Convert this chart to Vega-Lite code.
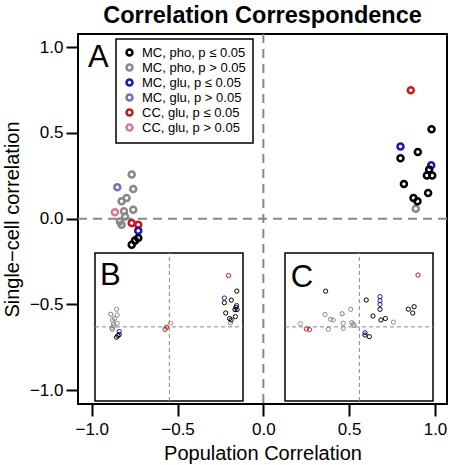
{
  "$schema": "https://vega.github.io/schema/vega-lite/v6.json",
  "width": 369,
  "height": 370,
  "autosize": "none",
  "padding": {"left": 78, "top": 34, "right": 3, "bottom": 61},
  "background": "white",
  "title": {"text": "Correlation Correspondence", "font": "Liberation Sans", "fontSize": 23.5, "fontWeight": "bold", "color": "black", "anchor": "middle", "offset": 6},
  "config": {
    "view": {"stroke": "black", "strokeWidth": 2},
    "font": "Liberation Sans",
    "axis": {"domain": false, "grid": false, "tickColor": "black", "tickWidth": 2, "tickSize": 12, "labelFont": "Liberation Sans", "labelFontSize": 17, "labelColor": "black", "labelPadding": 3, "titleFont": "Liberation Sans", "titleFontSize": 20, "titleFontWeight": "normal", "titleColor": "black"},
    "axisX": {"labelPadding": 5, "titlePadding": 6},
    "axisY": {"titlePadding": 7},
    "legend": {"orient": "none", "legendX": 38, "legendY": 5, "strokeColor": "black", "strokeWidth": 1.5, "fillColor": "white", "padding": 7, "labelFont": "Liberation Sans", "labelFontSize": 13, "labelColor": "black", "labelOffset": 6, "symbolType": "circle", "symbolSize": 36, "symbolStrokeWidth": 2.5, "symbolFillColor": "transparent", "rowPadding": -3}
  },
  "datasets": {
    "A": [
      {"x": -0.767, "y": 0.257, "g": "MC, pho, p > 0.05"},
      {"x": -0.758, "y": 0.173, "g": "MC, pho, p > 0.05"},
      {"x": -0.797, "y": 0.121, "g": "MC, pho, p > 0.05"},
      {"x": -0.826, "y": 0.101, "g": "MC, pho, p > 0.05"},
      {"x": -0.758, "y": 0.052, "g": "MC, pho, p > 0.05"},
      {"x": -0.812, "y": 0.043, "g": "MC, pho, p > 0.05"},
      {"x": -0.806, "y": 0.013, "g": "MC, pho, p > 0.05"},
      {"x": -0.836, "y": -0.016, "g": "MC, pho, p > 0.05"},
      {"x": -0.826, "y": -0.035, "g": "MC, pho, p > 0.05"},
      {"x": 0.888, "y": 0.058, "g": "MC, pho, p > 0.05"},
      {"x": -0.851, "y": 0.183, "g": "MC, glu, p > 0.05"},
      {"x": -0.865, "y": 0.037, "g": "CC, glu, p > 0.05"},
      {"x": -0.767, "y": -0.025, "g": "CC, glu, p ≤ 0.05"},
      {"x": -0.729, "y": -0.035, "g": "CC, glu, p ≤ 0.05"},
      {"x": 0.859, "y": 0.748, "g": "CC, glu, p ≤ 0.05"},
      {"x": -0.729, "y": -0.07, "g": "MC, glu, p ≤ 0.05"},
      {"x": 0.799, "y": 0.42, "g": "MC, glu, p ≤ 0.05"},
      {"x": 0.978, "y": 0.311, "g": "MC, glu, p ≤ 0.05"},
      {"x": -0.729, "y": -0.113, "g": "MC, pho, p ≤ 0.05"},
      {"x": -0.748, "y": -0.128, "g": "MC, pho, p ≤ 0.05"},
      {"x": -0.767, "y": -0.152, "g": "MC, pho, p ≤ 0.05"},
      {"x": 0.98, "y": 0.521, "g": "MC, pho, p ≤ 0.05"},
      {"x": 0.9, "y": 0.389, "g": "MC, pho, p ≤ 0.05"},
      {"x": 0.799, "y": 0.352, "g": "MC, pho, p ≤ 0.05"},
      {"x": 0.966, "y": 0.286, "g": "MC, pho, p ≤ 0.05"},
      {"x": 0.953, "y": 0.251, "g": "MC, pho, p ≤ 0.05"},
      {"x": 0.984, "y": 0.251, "g": "MC, pho, p ≤ 0.05"},
      {"x": 0.819, "y": 0.202, "g": "MC, pho, p ≤ 0.05"},
      {"x": 0.96, "y": 0.15, "g": "MC, pho, p ≤ 0.05"},
      {"x": 0.875, "y": 0.121, "g": "MC, pho, p ≤ 0.05"},
      {"x": 0.898, "y": 0.101, "g": "MC, pho, p ≤ 0.05"}
    ],
    "B": [
      {"x": -0.767, "y": 0.257, "g": "MC, pho, p > 0.05"},
      {"x": -0.758, "y": 0.173, "g": "MC, pho, p > 0.05"},
      {"x": -0.797, "y": 0.121, "g": "MC, pho, p > 0.05"},
      {"x": -0.826, "y": 0.101, "g": "MC, pho, p > 0.05"},
      {"x": -0.758, "y": 0.052, "g": "MC, pho, p > 0.05"},
      {"x": -0.812, "y": 0.043, "g": "MC, pho, p > 0.05"},
      {"x": -0.806, "y": 0.013, "g": "MC, pho, p > 0.05"},
      {"x": -0.836, "y": -0.016, "g": "MC, pho, p > 0.05"},
      {"x": -0.826, "y": -0.035, "g": "MC, pho, p > 0.05"},
      {"x": 0.888, "y": 0.058, "g": "MC, pho, p > 0.05"},
      {"x": -0.851, "y": 0.183, "g": "MC, glu, p > 0.05"},
      {"x": 0.018, "y": 0.052, "g": "CC, glu, p > 0.05"},
      {"x": -0.063, "y": -0.036, "g": "CC, glu, p ≤ 0.05"},
      {"x": -0.04, "y": -0.006, "g": "CC, glu, p ≤ 0.05"},
      {"x": 0.859, "y": 0.748, "g": "CC, glu, p ≤ 0.05"},
      {"x": -0.729, "y": -0.07, "g": "MC, glu, p ≤ 0.05"},
      {"x": 0.799, "y": 0.42, "g": "MC, glu, p ≤ 0.05"},
      {"x": 0.978, "y": 0.311, "g": "MC, glu, p ≤ 0.05"},
      {"x": -0.729, "y": -0.113, "g": "MC, pho, p ≤ 0.05"},
      {"x": -0.748, "y": -0.128, "g": "MC, pho, p ≤ 0.05"},
      {"x": -0.767, "y": -0.152, "g": "MC, pho, p ≤ 0.05"},
      {"x": 0.98, "y": 0.521, "g": "MC, pho, p ≤ 0.05"},
      {"x": 0.9, "y": 0.389, "g": "MC, pho, p ≤ 0.05"},
      {"x": 0.799, "y": 0.352, "g": "MC, pho, p ≤ 0.05"},
      {"x": 0.966, "y": 0.286, "g": "MC, pho, p ≤ 0.05"},
      {"x": 0.953, "y": 0.251, "g": "MC, pho, p ≤ 0.05"},
      {"x": 0.984, "y": 0.251, "g": "MC, pho, p ≤ 0.05"},
      {"x": 0.819, "y": 0.202, "g": "MC, pho, p ≤ 0.05"},
      {"x": 0.96, "y": 0.15, "g": "MC, pho, p ≤ 0.05"},
      {"x": 0.875, "y": 0.121, "g": "MC, pho, p ≤ 0.05"},
      {"x": 0.898, "y": 0.101, "g": "MC, pho, p ≤ 0.05"}
    ],
    "C": [
      {"x": -0.499, "y": 0.18, "g": "MC, pho, p > 0.05"},
      {"x": -0.42, "y": 0.11, "g": "MC, pho, p > 0.05"},
      {"x": -0.38, "y": 0.1, "g": "MC, pho, p > 0.05"},
      {"x": -0.451, "y": -0.036, "g": "MC, pho, p > 0.05"},
      {"x": -0.233, "y": 0.052, "g": "MC, pho, p > 0.05"},
      {"x": -0.233, "y": -0.021, "g": "MC, pho, p > 0.05"},
      {"x": -0.126, "y": 0.256, "g": "MC, pho, p > 0.05"},
      {"x": -0.111, "y": 0.061, "g": "MC, pho, p > 0.05"},
      {"x": -0.087, "y": 0.042, "g": "MC, pho, p > 0.05"},
      {"x": -0.08, "y": 0.02, "g": "MC, pho, p > 0.05"},
      {"x": 0.495, "y": 0.068, "g": "MC, pho, p > 0.05"},
      {"x": -0.25, "y": 0.19, "g": "MC, glu, p > 0.05"},
      {"x": -0.857, "y": 0.047, "g": "CC, glu, p > 0.05"},
      {"x": -0.77, "y": -0.03, "g": "CC, glu, p ≤ 0.05"},
      {"x": -0.725, "y": -0.04, "g": "CC, glu, p ≤ 0.05"},
      {"x": 0.852, "y": 0.755, "g": "CC, glu, p ≤ 0.05"},
      {"x": 0.3, "y": 0.44, "g": "MC, glu, p ≤ 0.05"},
      {"x": 0.3, "y": 0.381, "g": "MC, glu, p ≤ 0.05"},
      {"x": 0.3, "y": 0.329, "g": "MC, glu, p ≤ 0.05"},
      {"x": 0.082, "y": -0.085, "g": "MC, glu, p ≤ 0.05"},
      {"x": -0.49, "y": 0.52, "g": "MC, pho, p ≤ 0.05"},
      {"x": 0.1, "y": 0.391, "g": "MC, pho, p ≤ 0.05"},
      {"x": 0.3, "y": 0.256, "g": "MC, pho, p ≤ 0.05"},
      {"x": 0.198, "y": 0.158, "g": "MC, pho, p ≤ 0.05"},
      {"x": 0.313, "y": 0.1, "g": "MC, pho, p ≤ 0.05"},
      {"x": 0.378, "y": 0.122, "g": "MC, pho, p ≤ 0.05"},
      {"x": 0.711, "y": 0.258, "g": "MC, pho, p ≤ 0.05"},
      {"x": 0.796, "y": 0.294, "g": "MC, pho, p ≤ 0.05"},
      {"x": 0.775, "y": 0.202, "g": "MC, pho, p ≤ 0.05"},
      {"x": 0.082, "y": -0.119, "g": "MC, pho, p ≤ 0.05"},
      {"x": 0.145, "y": -0.143, "g": "MC, pho, p ≤ 0.05"}
    ]
  },
  "layer": [
    {
      "layer": [
        {
          "data": {"values": [{}]},
          "mark": {"type": "rule", "color": "#888888", "strokeWidth": 2, "strokeDash": [9, 6]},
          "encoding": {"x": {"datum": 0}}
        },
        {
          "data": {"values": [{}]},
          "mark": {"type": "rule", "color": "#888888", "strokeWidth": 2, "strokeDash": [9, 6]},
          "encoding": {"y": {"datum": 0}}
        },
        {
          "data": {"name": "A"},
          "mark": {"type": "point", "shape": "circle", "filled": false, "size": 36, "strokeWidth": 2.5, "opacity": 1},
          "encoding": {
            "x": {"field": "x", "type": "quantitative", "scale": {"domain": [-1.08, 1.07], "nice": false, "zero": false}, "axis": {"values": [-1, -0.5, 0, 0.5, 1], "format": ".1f", "title": "Population Correlation"}},
            "y": {"field": "y", "type": "quantitative", "scale": {"domain": [-1.08, 1.076], "nice": false, "zero": false}, "axis": {"values": [-1, -0.5, 0, 0.5, 1], "format": ".1f", "title": "Single−cell correlation"}},
            "color": {"field": "g", "type": "nominal", "legend": {"title": null, "rowPadding": -3}, "scale": {"domain": ["MC, pho, p ≤ 0.05", "MC, pho, p > 0.05", "MC, glu, p ≤ 0.05", "MC, glu, p > 0.05", "CC, glu, p ≤ 0.05", "CC, glu, p > 0.05"], "range": ["#000000", "#888888", "#1a1aaa", "#7474b4", "#c01c1c", "#d87a96"]}}
          }
        },
        {
          "data": {"values": [{}]},
          "mark": {"type": "text", "text": "A", "fontSize": 31, "align": "left", "baseline": "alphabetic", "color": "black"},
          "encoding": {"x": {"datum": -1.022}, "y": {"datum": 0.886}}
        }
      ]
    },
    {
      "layer": [
        {
          "data": {"values": [{}]},
          "mark": {"type": "rect", "fill": "white", "stroke": "black", "strokeWidth": 1.5},
          "encoding": {
            "x": {"datum": -1.08, "type": "quantitative", "scale": {"domain": [-1.08, 1.07], "range": [17, 165], "nice": false, "zero": false}, "axis": null},
            "x2": {"datum": 1.07},
            "y": {"datum": -1.08, "type": "quantitative", "scale": {"domain": [-1.08, 1.076], "range": [367, 219], "nice": false, "zero": false}, "axis": null},
            "y2": {"datum": 1.076}
          }
        },
        {
          "data": {"values": [{}]},
          "mark": {"type": "rule", "color": "#888888", "strokeWidth": 1, "strokeDash": [4, 3]},
          "encoding": {"x": {"datum": 0, "axis": null}, "y": {"datum": -1.08, "axis": null}, "y2": {"datum": 1.076}}
        },
        {
          "data": {"values": [{}]},
          "mark": {"type": "rule", "color": "#888888", "strokeWidth": 1, "strokeDash": [4, 3]},
          "encoding": {"y": {"datum": 0, "axis": null}, "x": {"datum": -1.08, "axis": null}, "x2": {"datum": 1.07}}
        },
        {
          "data": {"name": "B"},
          "mark": {"type": "point", "shape": "circle", "filled": false, "size": 18, "strokeWidth": 1, "opacity": 1},
          "encoding": {
            "x": {"field": "x", "type": "quantitative", "axis": null},
            "y": {"field": "y", "type": "quantitative", "axis": null},
            "color": {"field": "g", "type": "nominal", "legend": {"title": null, "rowPadding": -3}, "scale": {"domain": ["MC, pho, p ≤ 0.05", "MC, pho, p > 0.05", "MC, glu, p ≤ 0.05", "MC, glu, p > 0.05", "CC, glu, p ≤ 0.05", "CC, glu, p > 0.05"], "range": ["#000000", "#888888", "#1a1aaa", "#7474b4", "#c01c1c", "#d87a96"]}}
          }
        },
        {
          "data": {"values": [{}]},
          "mark": {"type": "text", "text": "B", "fontSize": 31, "align": "left", "baseline": "alphabetic", "color": "black"},
          "encoding": {"x": {"datum": -1.007, "axis": null}, "y": {"datum": 0.61, "axis": null}}
        }
      ]
    },
    {
      "layer": [
        {
          "data": {"values": [{}]},
          "mark": {"type": "rect", "fill": "white", "stroke": "black", "strokeWidth": 1.5},
          "encoding": {
            "x": {"datum": -1.08, "type": "quantitative", "scale": {"domain": [-1.08, 1.07], "range": [207, 355], "nice": false, "zero": false}, "axis": null},
            "x2": {"datum": 1.07},
            "y": {"datum": -1.08, "type": "quantitative", "scale": {"domain": [-1.08, 1.076], "range": [367, 219], "nice": false, "zero": false}, "axis": null},
            "y2": {"datum": 1.076}
          }
        },
        {
          "data": {"values": [{}]},
          "mark": {"type": "rule", "color": "#888888", "strokeWidth": 1, "strokeDash": [4, 3]},
          "encoding": {"x": {"datum": 0, "axis": null}, "y": {"datum": -1.08, "axis": null}, "y2": {"datum": 1.076}}
        },
        {
          "data": {"values": [{}]},
          "mark": {"type": "rule", "color": "#888888", "strokeWidth": 1, "strokeDash": [4, 3]},
          "encoding": {"y": {"datum": 0, "axis": null}, "x": {"datum": -1.08, "axis": null}, "x2": {"datum": 1.07}}
        },
        {
          "data": {"name": "C"},
          "mark": {"type": "point", "shape": "circle", "filled": false, "size": 18, "strokeWidth": 1, "opacity": 1},
          "encoding": {
            "x": {"field": "x", "type": "quantitative", "axis": null},
            "y": {"field": "y", "type": "quantitative", "axis": null},
            "color": {"field": "g", "type": "nominal", "legend": {"title": null, "rowPadding": -3}, "scale": {"domain": ["MC, pho, p ≤ 0.05", "MC, pho, p > 0.05", "MC, glu, p ≤ 0.05", "MC, glu, p > 0.05", "CC, glu, p ≤ 0.05", "CC, glu, p > 0.05"], "range": ["#000000", "#888888", "#1a1aaa", "#7474b4", "#c01c1c", "#d87a96"]}}
          }
        },
        {
          "data": {"values": [{}]},
          "mark": {"type": "text", "text": "C", "fontSize": 31, "align": "left", "baseline": "alphabetic", "color": "black"},
          "encoding": {"x": {"datum": -0.997, "axis": null}, "y": {"datum": 0.581, "axis": null}}
        }
      ]
    }
  ],
  "resolve": {"scale": {"x": "independent", "y": "independent"}}
}
